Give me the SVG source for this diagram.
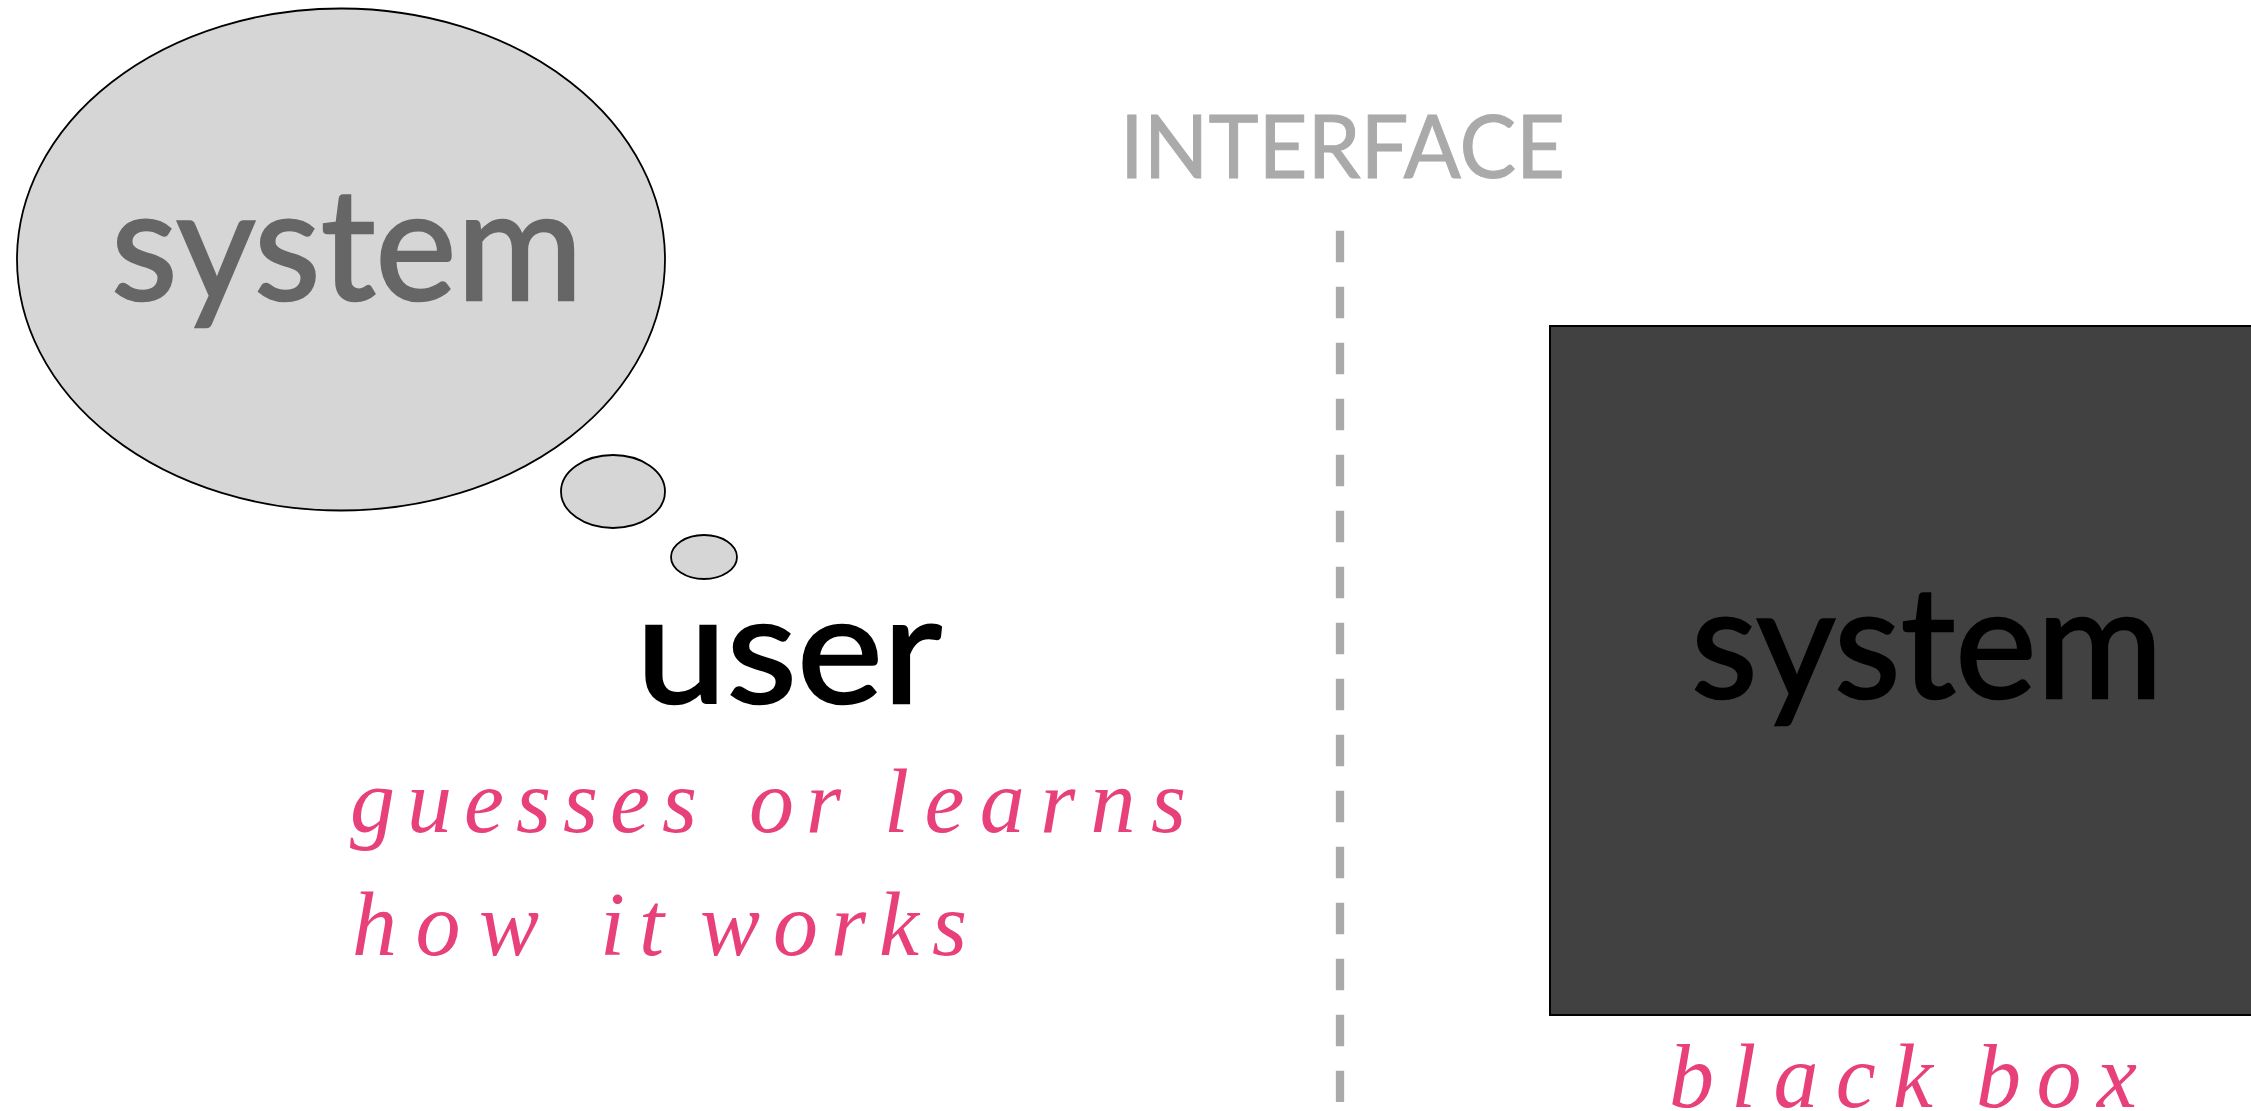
<svg xmlns="http://www.w3.org/2000/svg" width="2251" height="1111" viewBox="0 0 2251 1111">
<style>
.bubble{fill:#d6d6d6;stroke:#000;stroke-width:1.8}
.sans{font-family:Lato,"Open Sans","Liberation Sans",sans-serif}
.note{font-family:"Liberation Serif","Times New Roman",serif;font-style:italic;font-size:90px;fill:#e8407a}
</style>
<rect width="2251" height="1111" fill="#fff"/>
<g id="thought">
<ellipse class="bubble" cx="341" cy="259.5" rx="324" ry="251"/>
<ellipse class="bubble" cx="613" cy="491.5" rx="52" ry="36.5"/>
<ellipse class="bubble" cx="704" cy="557" rx="33" ry="22"/>
<text class="sans" x="111" y="300" font-size="156" fill="#666" stroke="#666" stroke-width="2.5" textLength="472" lengthAdjust="spacingAndGlyphs">system</text>
</g>
<g id="interface">
<text class="sans" x="1120" y="177.5" font-size="87" fill="#aaa" stroke="#aaa" stroke-width="1" textLength="445" lengthAdjust="spacingAndGlyphs">INTERFACE</text>
</g>
<g id="connectors">
<line x1="1340" y1="230.7" x2="1340" y2="1102" stroke="#aaa" stroke-width="8.3" stroke-dasharray="31.5 24.5"/>
</g>
<g id="user">
<text class="sans" x="636" y="703" font-size="152" fill="#000" stroke="#000" stroke-width="2.5" textLength="306" lengthAdjust="spacingAndGlyphs">user</text>
<text class="note" x="350" y="832" textLength="347" lengthAdjust="spacing">guesses</text>
<text class="note" x="749" y="832" textLength="92" lengthAdjust="spacing">or</text>
<text class="note" x="884" y="832" textLength="302" lengthAdjust="spacing">learns</text>
<text class="note" x="352" y="955" textLength="187" lengthAdjust="spacing">how</text>
<text class="note" x="600" y="955" textLength="64" lengthAdjust="spacing">it</text>
<text class="note" x="700" y="955" textLength="267" lengthAdjust="spacing">works</text>
</g>
<g id="blackbox">
<rect x="1550" y="326" width="720" height="689" fill="#414141" stroke="#000" stroke-width="2"/>
<text class="sans" x="1691" y="698" font-size="156" fill="#000" stroke="#000" stroke-width="2.5" textLength="472" lengthAdjust="spacingAndGlyphs">system</text>
<text class="note" x="1669" y="1107" textLength="264" lengthAdjust="spacing">black</text>
<text class="note" x="1976" y="1107" textLength="161" lengthAdjust="spacing">box</text>
</g>
</svg>
